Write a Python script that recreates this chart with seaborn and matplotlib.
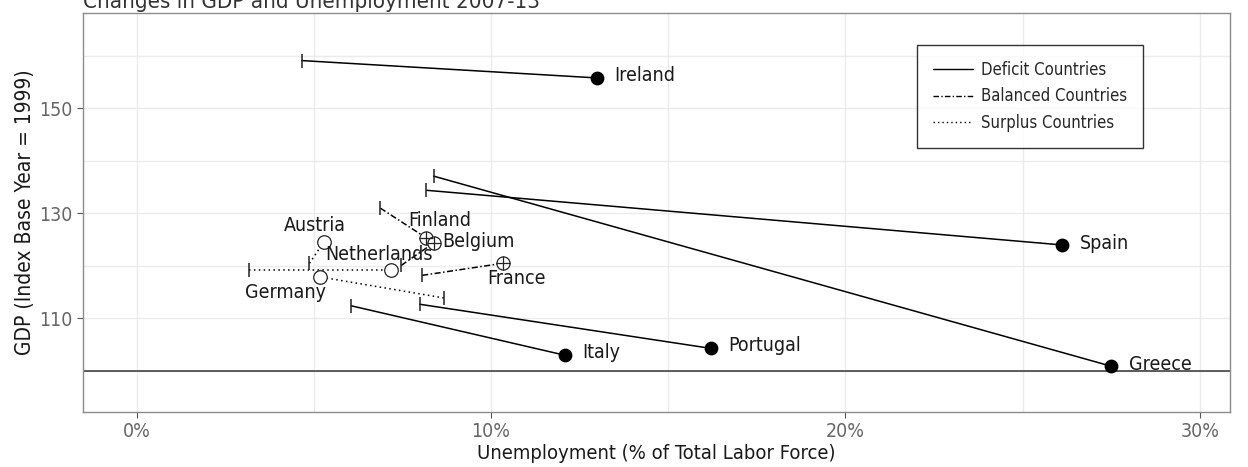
import matplotlib
matplotlib.use("Agg")
import matplotlib.pyplot as plt
from matplotlib.lines import Line2D
from matplotlib.ticker import FuncFormatter, MultipleLocator
import seaborn as sns
import pandas as pd

countries = ["Ireland", "Spain", "Greece", "Portugal", "Italy",
             "Finland", "Belgium", "France",
             "Netherlands", "Austria", "Germany"]
groups = ["Deficit"] * 5 + ["Balanced"] * 3 + ["Surplus"] * 3
unemp_2007 = [4.66, 8.18, 8.38, 7.99, 6.06, 6.88, 7.47, 8.06, 3.17, 4.88, 8.67]
unemp_2013 = [12.98, 26.1, 27.5, 16.2, 12.08, 8.16, 8.39, 10.34, 7.19, 5.28, 5.18]
gdp_2007 = [159.1, 134.4, 137.1, 112.7, 112.4, 131.0, 120.1, 118.2, 119.2, 120.5, 113.9]
gdp_2013 = [155.8, 124.0, 100.9, 104.3, 103.0, 125.4, 124.4, 120.5, 119.2, 124.5, 117.9]

legend_labels = {"Deficit": "Deficit Countries",
                 "Balanced": "Balanced Countries",
                 "Surplus": "Surplus Countries"}
dash_styles = {"Deficit": "", "Balanced": (4, 1.6, 1, 1.6), "Surplus": (1, 2.2)}

# label placement: (dx, dy) in points and horizontal alignment
label_pos = {
    "Ireland": (13, 2, "left"), "Spain": (13, 1, "left"), "Greece": (13, 1, "left"),
    "Portugal": (13, 2, "left"), "Italy": (13, 2, "left"),
    "Finland": (10, 12, "center"), "Belgium": (6, 1, "left"), "France": (10, -11, "center"),
    "Netherlands": (-9, 11, "center"), "Austria": (-6, 12, "center"),
    "Germany": (-25, -11, "center"),
}

df = pd.DataFrame({
    "country": countries * 2,
    "group": groups * 2,
    "year": [2007] * len(countries) + [2013] * len(countries),
    "unemployment": unemp_2007 + unemp_2013,
    "gdp": gdp_2007 + gdp_2013,
})
start = df[df.year == 2007]
end = df[df.year == 2013]

sns.set_theme(style="white")
plt.rcParams["font.family"] = ["Liberation Sans Narrow", "DejaVu Sans"]
plt.rcParams["font.stretch"] = "condensed"

fig = plt.figure(figsize=(12.48, 4.67), dpi=100)
ax = fig.add_axes([0.0665, 0.118, 0.919, 0.8535])

ax.axhline(100, color="#333333", lw=1.1, zorder=1)

sns.lineplot(data=df, x="unemployment", y="gdp", units="country", estimator=None,
             style="group", dashes=dash_styles, color="black", lw=1.1,
             sort=False, legend=False, ax=ax, zorder=2)

ax.scatter(start.unemployment, start.gdp, marker="|", s=110, color="#222222",
           linewidths=1.1, zorder=3)

deficit = end[end.group == "Deficit"]
balanced = end[end.group == "Balanced"]
surplus = end[end.group == "Surplus"]
ax.scatter(deficit.unemployment, deficit.gdp, s=80, color="black", zorder=4)
ax.scatter(balanced.unemployment, balanced.gdp, s=90, facecolor="white",
           edgecolor="#222222", linewidths=0.9, zorder=4)
ax.scatter(balanced.unemployment, balanced.gdp, marker="+", s=90, color="#222222",
           linewidths=0.9, zorder=5)
ax.scatter(surplus.unemployment, surplus.gdp, s=95, facecolor="white",
           edgecolor="#222222", linewidths=0.9, zorder=4)

for _, r in end.iterrows():
    dx, dy, ha = label_pos[r.country]
    ax.annotate(r.country, (r.unemployment, r.gdp), xytext=(dx, dy),
                textcoords="offset points", ha=ha, va="center",
                fontsize=14, color="#1a1a1a", zorder=6)

ax.set_xlim(-1.51, 30.85)
ax.set_ylim(92.2, 168.1)
ax.xaxis.set_major_locator(MultipleLocator(10))
ax.xaxis.set_minor_locator(MultipleLocator(5))
ax.yaxis.set_minor_locator(MultipleLocator(10))
ax.set_yticks([110, 130, 150])
ax.xaxis.set_major_formatter(FuncFormatter(lambda v, p: f"{v:.0f}%"))
ax.grid(which="both", color="#ebebeb", lw=1.0)
ax.set_axisbelow(True)
ax.tick_params(axis="both", which="major", labelsize=14, labelcolor="#666666",
               color="#555555", length=4, width=0.8, left=True, bottom=True)
ax.tick_params(axis="both", which="minor", length=0)
for s in ax.spines.values():
    s.set_color("#8c8c8c")
    s.set_linewidth(1.0)

ax.set_xlabel("Unemployment (% of Total Labor Force)", fontsize=14.5, color="#1a1a1a",
              labelpad=2)
ax.set_ylabel("GDP (Index Base Year = 1999)", fontsize=15, color="#1a1a1a",
              labelpad=3)

handles = [Line2D([], [], color="black", lw=1.0,
                  linestyle=(0, dash_styles[g]) if dash_styles[g] else "-")
           for g in legend_labels]
leg = ax.legend(handles, list(legend_labels.values()), loc="upper left",
                bbox_to_anchor=(0.727, 0.92), borderaxespad=0, fontsize=12,
                frameon=True, fancybox=False, edgecolor="black", handlelength=2.4,
                labelspacing=0.5, borderpad=0.95, handletextpad=0.5)
leg.get_frame().set_linewidth(1.0)

fig.text(0.0665, 0.983, "Changes in GDP and Unemployment 2007-13", fontsize=16,
         color="#333333", ha="left", va="baseline")

fig.savefig("out.png", dpi=100)
